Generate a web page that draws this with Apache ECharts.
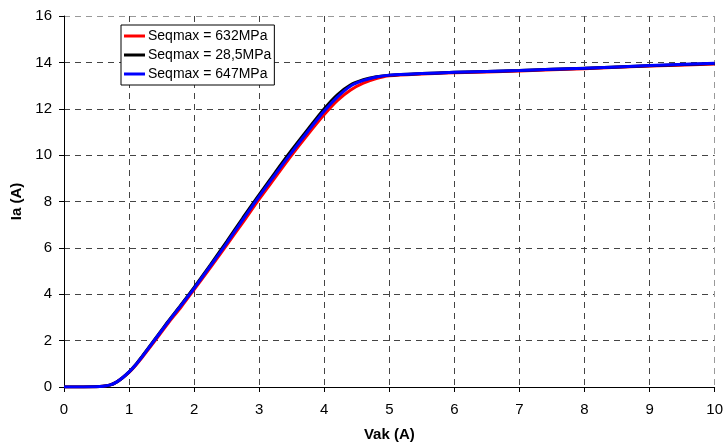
<!DOCTYPE html>
<html><head><meta charset="utf-8">
<script src="https://cdn.jsdelivr.net/npm/echarts@6/dist/echarts.min.js"></script>
<style>html,body{margin:0;padding:0;background:#fff}#c{width:726px;height:447px}</style>
</head><body><div id="c"></div>
<script>
const seriesNames = ['Seqmax = 632MPa', 'Seqmax = 28,5MPa', 'Seqmax = 647MPa'];
const seriesColors = ['#ff0000', '#000000', '#0000ff'];
const vak = [0, 0.5, 0.6, 0.7, 0.8, 0.9, 1.0, 1.1, 1.2, 1.4, 1.6, 1.8, 2.0, 2.25, 2.5, 2.75, 3.0, 3.25, 3.5, 3.75, 4.0, 4.2, 4.4, 4.6, 4.8, 5.0, 5.5, 6, 7, 8, 9, 10];
const iaRed   = [0, 0.01, 0.03, 0.08, 0.2, 0.4, 0.63, 0.93, 1.27, 2.0, 2.75, 3.45, 4.2, 5.15, 6.12, 7.1, 8.1, 9.05, 10.0, 10.9, 11.75, 12.35, 12.8, 13.1, 13.3, 13.42, 13.5, 13.55, 13.63, 13.73, 13.84, 13.93];
const iaBlack = [0, 0.01, 0.03, 0.08, 0.2, 0.4, 0.65, 0.96, 1.32, 2.07, 2.83, 3.55, 4.3, 5.27, 6.27, 7.3, 8.3, 9.27, 10.22, 11.12, 12.0, 12.6, 13.02, 13.25, 13.38, 13.45, 13.52, 13.57, 13.65, 13.75, 13.85, 13.95];
const iaBlue  = [0, 0.01, 0.03, 0.08, 0.2, 0.4, 0.65, 0.95, 1.3, 2.05, 2.8, 3.52, 4.25, 5.22, 6.2, 7.22, 8.22, 9.18, 10.12, 11.03, 11.9, 12.5, 12.97, 13.22, 13.37, 13.45, 13.52, 13.57, 13.65, 13.75, 13.86, 13.96];
const xTicks = {min: 0, max: 10, interval: 1};
const yTicks = {min: 0, max: 16, interval: 2};

const datasets = [iaRed, iaBlack, iaBlue];
const chart = echarts.init(document.getElementById('c'));
const font = 'Arial, "Liberation Sans", sans-serif';
const xGridColors = ['#444','#444','#444','#444','#444','#444','#444','#444','#444','#444','#999'];
const yGridColors = ['#444','#444','#444','#444','#444','#444','#444','#444','#999'];
chart.setOption({
  animation: false,
  backgroundColor: '#fff',
  grid: {left: 64, right: 10, top: 16, bottom: 59, containLabel: false},
  legend: {
    orient: 'vertical', left: 121, top: 25,
    data: seriesNames.map(n => ({name: n, icon: 'rect'})),
    itemWidth: 21, itemHeight: 3, itemGap: 5,
    borderColor: '#000', borderWidth: 1, backgroundColor: '#fff', borderRadius: 0,
    padding: [4, 3, 4, 3],
    textStyle: {fontFamily: font, fontSize: 14, lineHeight: 14, color: '#000', padding: [0,0,0,-2]}
  },
  xAxis: {
    type: 'value', min: xTicks.min, max: xTicks.max, interval: xTicks.interval,
    name: 'Vak (A)', nameLocation: 'middle', nameGap: 40,
    nameTextStyle: {fontFamily: font, fontSize: 15, fontWeight: 'bold', color: '#000'},
    axisLine: {onZero: false, lineStyle: {color: '#000', width: 1}},
    axisTick: {show: true, inside: false, length: 5, lineStyle: {color: '#000'}},
    axisLabel: {fontFamily: font, fontSize: 15, color: '#000', margin: 15},
    splitLine: {show: true, lineStyle: {color: xGridColors, type: [6, 5], width: 1}}
  },
  yAxis: {
    type: 'value', min: yTicks.min, max: yTicks.max, interval: yTicks.interval,
    name: 'Ia (A)', nameLocation: 'middle', nameGap: 39, nameRotate: 90,
    nameTextStyle: {fontFamily: font, fontSize: 15, fontWeight: 'bold', color: '#000'},
    axisLine: {show: true, onZero: false, lineStyle: {color: '#000', width: 1}},
    axisTick: {show: true, inside: false, length: 5, lineStyle: {color: '#000'}},
    axisLabel: {fontFamily: font, fontSize: 15, color: '#000', margin: 12},
    splitLine: {show: true, lineStyle: {color: yGridColors, type: [6, 5], width: 1}}
  },
  series: datasets.map((d, i) => ({
    name: seriesNames[i], type: 'line', smooth: 0.3, showSymbol: false,
    data: vak.map((x, k) => [x, d[k]]),
    lineStyle: {color: seriesColors[i], width: 3}, itemStyle: {color: seriesColors[i]}
  }))
});
</script></body></html>
